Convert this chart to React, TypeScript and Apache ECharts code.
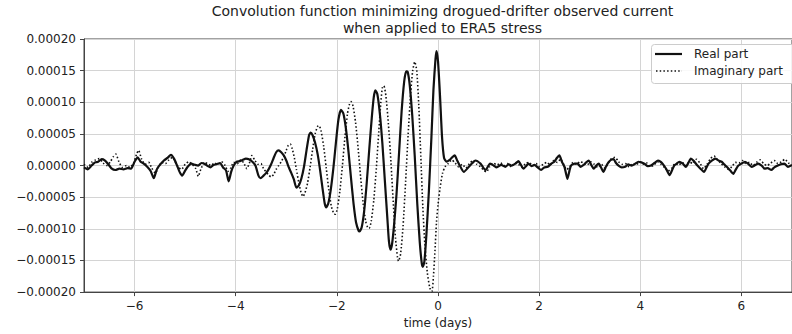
import React, { useEffect, useRef } from "react";
import * as echarts from "echarts";

// values in units of 1e-5 ; time in days
const titleLines = [
  "Convolution function minimizing drogued-drifter observed current",
  "when applied to ERA5 stress",
];
const xTicks = [-6, -4, -2, 0, 2, 4, 6];
const yTickLabels = ["−0.00020", "−0.00015", "−0.00010", "−0.00005", "0.00000", "0.00005", "0.00010", "0.00015", "0.00020"];
const legendNames = ["Real part", "Imaginary part"];

const realLeft = [
  [-7.0, -0.3], [-6.93, -0.6], [-6.85, 0.0], [-6.78, 0.5], [-6.72, 0.6], [-6.65, 1.0], [-6.59, 0.8], [-6.52, 0.2],
  [-6.45, -0.5], [-6.38, -0.7], [-6.3, -0.5], [-6.22, -0.6], [-6.14, -0.4], [-6.07, -0.5], [-6.0, 0.6], [-5.94, 1.3],
  [-5.88, 0.6], [-5.82, 0.3], [-5.75, -0.2], [-5.68, -0.9], [-5.62, -2.0], [-5.56, -0.6], [-5.5, 0.1], [-5.42, 0.8],
  [-5.35, 1.2], [-5.28, 1.7], [-5.22, 1.1], [-5.16, 0.0], [-5.11, -1.0], [-5.06, -1.6], [-5.0, -0.8], [-4.95, -0.2],
  [-4.88, 0.3], [-4.8, 0.1], [-4.74, 0.0], [-4.68, 0.4], [-4.62, 0.3], [-4.55, -0.1], [-4.5, -0.3], [-4.44, 0.1],
  [-4.38, 0.2], [-4.31, 0.4], [-4.25, -0.3], [-4.19, -0.8], [-4.14, -2.5], [-4.09, -1.0], [-4.04, 0.0], [-3.98, 0.6],
  [-3.92, 0.7], [-3.86, 0.9], [-3.8, 1.1], [-3.74, 1.0], [-3.67, 0.6], [-3.61, 0.0], [-3.55, -1.6], [-3.51, -2.0],
];
const realWave = [
  [-3.45, -1.6], [-3.4, -1.2], [-3.35, -0.6], [-3.3, 0.2], [-3.25, 1.2], [-3.2, 2.1], [-3.15, 2.4], [-3.1, 2.1],
  [-3.05, 1.6], [-3.0, 0.8], [-2.95, -0.3], [-2.9, -1.2], [-2.85, -2.2], [-2.8, -3.5], [-2.75, -3.1], [-2.7, -2.0],
  [-2.65, -0.2], [-2.6, 2.4], [-2.55, 4.8], [-2.52, 5.2], [-2.48, 4.8], [-2.43, 3.6], [-2.38, 1.8], [-2.33, -0.8],
  [-2.28, -3.8], [-2.24, -6.0], [-2.21, -6.6], [-2.17, -6.0], [-2.12, -3.8], [-2.07, -0.5], [-2.02, 3.5], [-1.97, 7.2],
  [-1.92, 8.8], [-1.87, 8.2], [-1.82, 5.8], [-1.77, 2.2], [-1.72, -2.0], [-1.67, -6.0], [-1.62, -9.0], [-1.57, -10.3],
  [-1.55, -10.4], [-1.51, -9.8], [-1.46, -7.2], [-1.41, -2.8], [-1.36, 2.5], [-1.31, 7.5], [-1.27, 10.8], [-1.24, 11.9],
  [-1.2, 11.3], [-1.15, 8.2], [-1.1, 3.5], [-1.05, -2.5], [-1.0, -8.5], [-0.97, -12.0], [-0.94, -13.3], [-0.91, -12.5],
  [-0.87, -9.5], [-0.82, -4.5], [-0.77, 2.0], [-0.72, 8.5], [-0.67, 13.2], [-0.63, 14.9], [-0.6, 14.8], [-0.56, 12.8],
  [-0.51, 8.0], [-0.46, 1.5], [-0.41, -6.0], [-0.36, -12.2], [-0.32, -15.5], [-0.3, -16.0], [-0.27, -15.2], [-0.23, -11.0],
  [-0.18, -4.0], [-0.13, 4.5], [-0.09, 12.0], [-0.05, 16.8], [-0.03, 18.1], [0.0, 16.5], [0.04, 11.0], [0.08, 4.5],
  [0.12, 1.2], [0.17, 0.6], [0.23, 0.9], [0.28, 1.3], [0.33, 1.6], [0.38, 0.8], [0.43, 0.0],
];
const realRight = [
  [0.51, -1.0], [0.61, -0.2], [0.68, 0.4], [0.74, 0.8], [0.84, 0.3], [0.94, -0.7], [1.03, 0.3], [1.1, 0.0],
  [1.16, -0.3], [1.25, 0.1], [1.33, -0.2], [1.4, 0.2], [1.46, 0.0], [1.53, 0.3], [1.59, 0.7], [1.64, 0.1],
  [1.69, -0.5], [1.74, -0.1], [1.79, 0.3], [1.85, -0.1], [1.91, 0.1], [1.97, -0.3], [2.04, -0.7], [2.1, -0.3],
  [2.17, -0.2], [2.24, 0.3], [2.3, 0.6], [2.35, 1.2], [2.4, 1.6], [2.45, 0.6], [2.5, -0.2], [2.53, -1.2],
  [2.56, -2.1], [2.6, -0.8], [2.63, 0.0], [2.7, 0.3], [2.76, 0.3], [2.82, -0.2], [2.88, 0.1], [2.93, 0.5],
  [2.98, 0.8], [3.03, 0.1], [3.08, -0.5], [3.13, 0.0], [3.18, 0.3], [3.23, -0.4], [3.27, -1.0], [3.32, -0.2],
  [3.37, 0.5], [3.42, 0.9], [3.47, 1.0], [3.52, 0.4], [3.57, 0.0], [3.63, -0.3], [3.7, -0.2], [3.76, 0.2],
  [3.83, 0.0], [3.9, 0.3], [3.96, 0.6], [4.02, 0.5], [4.08, 0.3], [4.15, -0.1], [4.21, 0.0], [4.28, 0.4],
  [4.35, 0.8], [4.4, 0.6], [4.44, 0.3], [4.51, -0.5], [4.58, -1.5], [4.63, -0.7], [4.67, 0.0], [4.72, 0.3],
  [4.77, 0.6], [4.84, 0.3], [4.9, -0.2], [4.95, 0.4], [5.0, 1.1], [5.06, 0.7], [5.13, 0.0], [5.19, -0.5],
  [5.26, -1.0], [5.31, -0.3], [5.35, 0.3], [5.42, 0.8], [5.48, 1.1], [5.55, 0.8], [5.61, 0.6], [5.66, 0.2],
  [5.71, -0.2], [5.78, -0.8], [5.84, -1.3], [5.89, -0.6], [5.94, 0.0], [6.0, 0.3], [6.07, 0.6], [6.13, 0.3],
  [6.2, -0.2], [6.26, 0.0], [6.33, 0.3], [6.4, 0.0], [6.46, -0.5], [6.52, -0.4], [6.59, -0.7], [6.65, -0.3],
  [6.72, 0.0], [6.78, 0.2], [6.85, 0.3], [6.92, -0.2], [7.0, 0.1],
];

const imagLeft = [
  [-7.0, 0.2], [-6.92, -0.3], [-6.85, 0.5], [-6.77, 0.9], [-6.7, 1.1], [-6.62, 0.4], [-6.55, 0.0], [-6.48, 0.6],
  [-6.42, 1.4], [-6.37, 1.8], [-6.31, 0.6], [-6.24, -0.3], [-6.16, 0.0], [-6.09, -0.3], [-6.02, 0.4], [-5.96, 1.8],
  [-5.92, 2.4], [-5.86, 1.0], [-5.79, 0.2], [-5.72, 0.5], [-5.66, -0.4], [-5.59, -1.2], [-5.53, -0.3], [-5.46, 0.5],
  [-5.39, 0.3], [-5.32, 0.9], [-5.25, 1.3], [-5.19, 0.5], [-5.13, -0.3], [-5.07, -0.6], [-5.0, 0.2], [-4.93, 0.6],
  [-4.86, 0.2], [-4.79, -0.5], [-4.74, -1.7], [-4.69, -0.6], [-4.62, 0.5], [-4.56, 0.3], [-4.49, 0.0], [-4.42, 0.4],
  [-4.35, 0.2], [-4.28, 0.6], [-4.21, 0.0], [-4.15, -0.9], [-4.1, -0.4], [-4.04, 0.5], [-3.97, 0.3], [-3.9, 0.9],
  [-3.84, 0.4], [-3.78, -0.5], [-3.72, 0.6], [-3.68, 1.6], [-3.62, 0.8], [-3.56, 0.2],
];
const imagWave = [
  [-3.5, 0.3], [-3.45, -0.5], [-3.4, -1.0], [-3.35, -1.5], [-3.3, -1.8], [-3.25, -1.4], [-3.2, -0.6], [-3.15, 0.0],
  [-3.1, 0.6], [-3.05, 1.4], [-3.0, 2.4], [-2.96, 3.2], [-2.92, 3.4], [-2.88, 2.6], [-2.84, 1.2], [-2.8, -0.6],
  [-2.75, -2.8], [-2.71, -4.2], [-2.67, -4.9], [-2.63, -4.3], [-2.58, -2.8], [-2.53, -0.3], [-2.48, 2.5], [-2.43, 5.0],
  [-2.38, 6.2], [-2.35, 6.3], [-2.31, 5.4], [-2.26, 3.0], [-2.21, -0.4], [-2.16, -3.8], [-2.11, -6.4], [-2.06, -7.6],
  [-2.03, -7.7], [-1.99, -6.8], [-1.94, -4.0], [-1.89, 0.0], [-1.84, 4.5], [-1.79, 8.2], [-1.75, 9.7], [-1.72, 10.1],
  [-1.68, 9.4], [-1.63, 6.8], [-1.58, 2.8], [-1.53, -1.8], [-1.48, -6.0], [-1.43, -8.8], [-1.39, -9.8], [-1.36, -9.9],
  [-1.32, -8.8], [-1.27, -5.5], [-1.22, -0.5], [-1.17, 5.5], [-1.13, 10.0], [-1.1, 12.3], [-1.07, 12.6], [-1.03, 11.0],
  [-0.98, 6.5], [-0.93, 0.5], [-0.88, -6.5], [-0.84, -11.5], [-0.8, -14.6], [-0.78, -15.1], [-0.74, -14.0], [-0.69, -9.5],
  [-0.64, -2.5], [-0.59, 5.0], [-0.54, 11.5], [-0.5, 15.0], [-0.46, 16.4], [-0.42, 15.0], [-0.38, 9.5], [-0.34, 1.5],
  [-0.3, -6.5], [-0.26, -12.5], [-0.21, -17.0], [-0.16, -19.4], [-0.12, -19.9], [-0.09, -17.5], [-0.06, -13.5], [-0.03, -9.0],
  [0.0, -6.2], [0.04, -3.6], [0.09, -1.2], [0.14, -0.2],
];
const imagRight = [
  [0.2, 0.3], [0.27, 0.9], [0.34, 0.4], [0.41, -0.2], [0.48, 0.2], [0.55, -0.4], [0.62, 0.3], [0.7, 0.8],
  [0.77, 0.2], [0.84, -0.2], [0.91, -0.8], [0.96, -1.0], [1.02, -0.2], [1.09, 0.4], [1.17, 0.1], [1.24, 0.4],
  [1.31, 0.0], [1.38, 0.3], [1.45, -0.2], [1.52, 0.4], [1.59, 0.2], [1.66, -0.3], [1.73, 0.3], [1.8, 0.5],
  [1.87, 0.0], [1.94, 0.3], [2.01, -0.2], [2.08, 0.2], [2.15, 0.5], [2.22, 0.1], [2.29, 0.8], [2.36, 0.5],
  [2.42, 1.0], [2.48, 0.3], [2.54, -0.6], [2.6, -0.3], [2.67, 0.5], [2.74, 0.2], [2.81, 0.6], [2.88, 0.4],
  [2.95, 0.1], [3.02, 0.6], [3.09, 0.2], [3.16, -0.3], [3.23, 0.2], [3.3, -0.4], [3.36, 0.3], [3.43, 1.1],
  [3.5, 1.3], [3.57, 0.6], [3.64, 0.2], [3.71, 0.3], [3.78, -0.2], [3.85, 0.3], [3.92, 0.1], [3.99, 0.6],
  [4.06, 0.2], [4.13, 0.4], [4.2, -0.2], [4.27, 0.1], [4.34, 0.6], [4.41, 0.2], [4.48, -0.3], [4.55, -0.9],
  [4.62, -0.4], [4.69, 0.3], [4.76, 0.1], [4.83, 0.5], [4.9, 0.0], [4.97, 0.6], [5.04, 0.3], [5.11, 1.0],
  [5.18, 0.4], [5.25, -0.5], [5.32, 0.2], [5.39, 1.1], [5.46, 1.5], [5.53, 0.9], [5.6, 0.3], [5.67, -0.2],
  [5.74, -0.6], [5.81, -0.2], [5.88, 0.5], [5.95, 0.4], [6.02, 0.8], [6.09, 0.3], [6.16, 0.5], [6.23, 0.0],
  [6.3, 0.5], [6.37, 0.9], [6.44, 0.3], [6.51, 0.0], [6.58, 0.4], [6.65, 0.8], [6.72, 0.3], [6.79, 0.6],
  [6.86, 1.0], [6.93, 0.4], [7.0, 0.2],
];

const FONT = "DejaVu Sans";

export default function App() {
  const ref = useRef<HTMLDivElement>(null);
  useEffect(() => {
    if (!ref.current) return;
    const chart = echarts.init(ref.current, null, { renderer: "svg" });
    const realPart = [...realLeft, ...realWave, ...realRight];
    const imagPart = [...imagLeft, ...imagWave, ...imagRight];
    const minus = (s: string) => s.replace("-", "\u2212");
    const titleStyle = { fontFamily: FONT, fontSize: 14, fontWeight: "normal", color: "#222", lineHeight: 16 };
    chart.setOption({
      animation: false,
      backgroundColor: "#fff",
      title: {
        text: titleLines[0],
        subtext: titleLines[1],
        left: 442.5,
        textAlign: "center",
        top: 3,
        padding: 0,
        itemGap: 1,
        textStyle: titleStyle,
        subtextStyle: titleStyle,
      },
      grid: {
        left: 84, top: 39, width: 717, height: 257.6,
        show: true, borderColor: "#444", borderWidth: 1, backgroundColor: "transparent",
      },
      xAxis: {
        type: "value",
        min: -7, max: 7, splitNumber: 7, minInterval: 2, maxInterval: 2,
        name: "time (days)",
        nameLocation: "middle",
        nameGap: 23,
        nameTextStyle: { fontFamily: FONT, fontSize: 12, color: "#222" },
        axisLine: { show: true, onZero: false, lineStyle: { color: "#444", width: 1 } },
        axisTick: { show: true, length: 4, lineStyle: { color: "#444" } },
        axisLabel: {
          fontFamily: FONT, fontSize: 12, color: "#222", margin: 8,
          showMinLabel: false, showMaxLabel: false,
          formatter: (v: number) => (xTicks.includes(v) ? minus(String(v)) : ""),
        },
        splitLine: { show: true, lineStyle: { color: "#d4d4d4", width: 1 } },
      },
      yAxis: {
        type: "value",
        min: -20, max: 20, interval: 5,
        axisLine: { show: true, onZero: false, lineStyle: { color: "#444", width: 1 } },
        axisTick: { show: true, length: 4, lineStyle: { color: "#444" } },
        axisLabel: {
          fontFamily: FONT, fontSize: 12, color: "#222", margin: 8,
          formatter: (v: number) => yTickLabels[Math.round(v / 5) + 4],
        },
        splitLine: { show: true, lineStyle: { color: "#d4d4d4", width: 1 } },
      },
      series: [
        {
          name: legendNames[0], type: "line", data: realPart, showSymbol: false, symbol: "none",
          smooth: 0.2, lineStyle: { color: "#111", width: 2.2 }, clip: true, z: 3,
        },
        {
          name: legendNames[1], type: "line", data: imagPart, showSymbol: false, symbol: "none",
          smooth: 0.2, lineStyle: { color: "#111", width: 1.6, type: [1.5, 2.2] }, clip: true, z: 4,
        },
      ],
      graphic: [
        {
          type: "rect", z: 100, shape: { x: 651.5, y: 44.5, width: 146, height: 39, r: 3 },
          style: { fill: "rgba(255,255,255,0.85)", stroke: "#cccccc", lineWidth: 1 },
        },
        {
          type: "line", z: 101, shape: { x1: 655, y1: 54, x2: 682, y2: 54 },
          style: { stroke: "#111", lineWidth: 2.2 },
        },
        {
          type: "line", z: 101, shape: { x1: 656, y1: 71, x2: 682, y2: 71 },
          style: { stroke: "#111", lineWidth: 1.6, lineDash: [1.5, 2.2] },
        },
        {
          type: "text", z: 101, x: 694, y: 54,
          style: { text: legendNames[0], font: `12px ${FONT}`, fill: "#222", verticalAlign: "middle" },
        },
        {
          type: "text", z: 101, x: 694, y: 71,
          style: { text: legendNames[1], font: `12px ${FONT}`, fill: "#222", verticalAlign: "middle" },
        },
      ],
    });
    return () => chart.dispose();
  }, []);
  return (
    <div
      ref={ref}
      style={{ position: "absolute", left: 0, top: 0, width: 792, height: 334, overflow: "hidden" }}
    />
  );
}
